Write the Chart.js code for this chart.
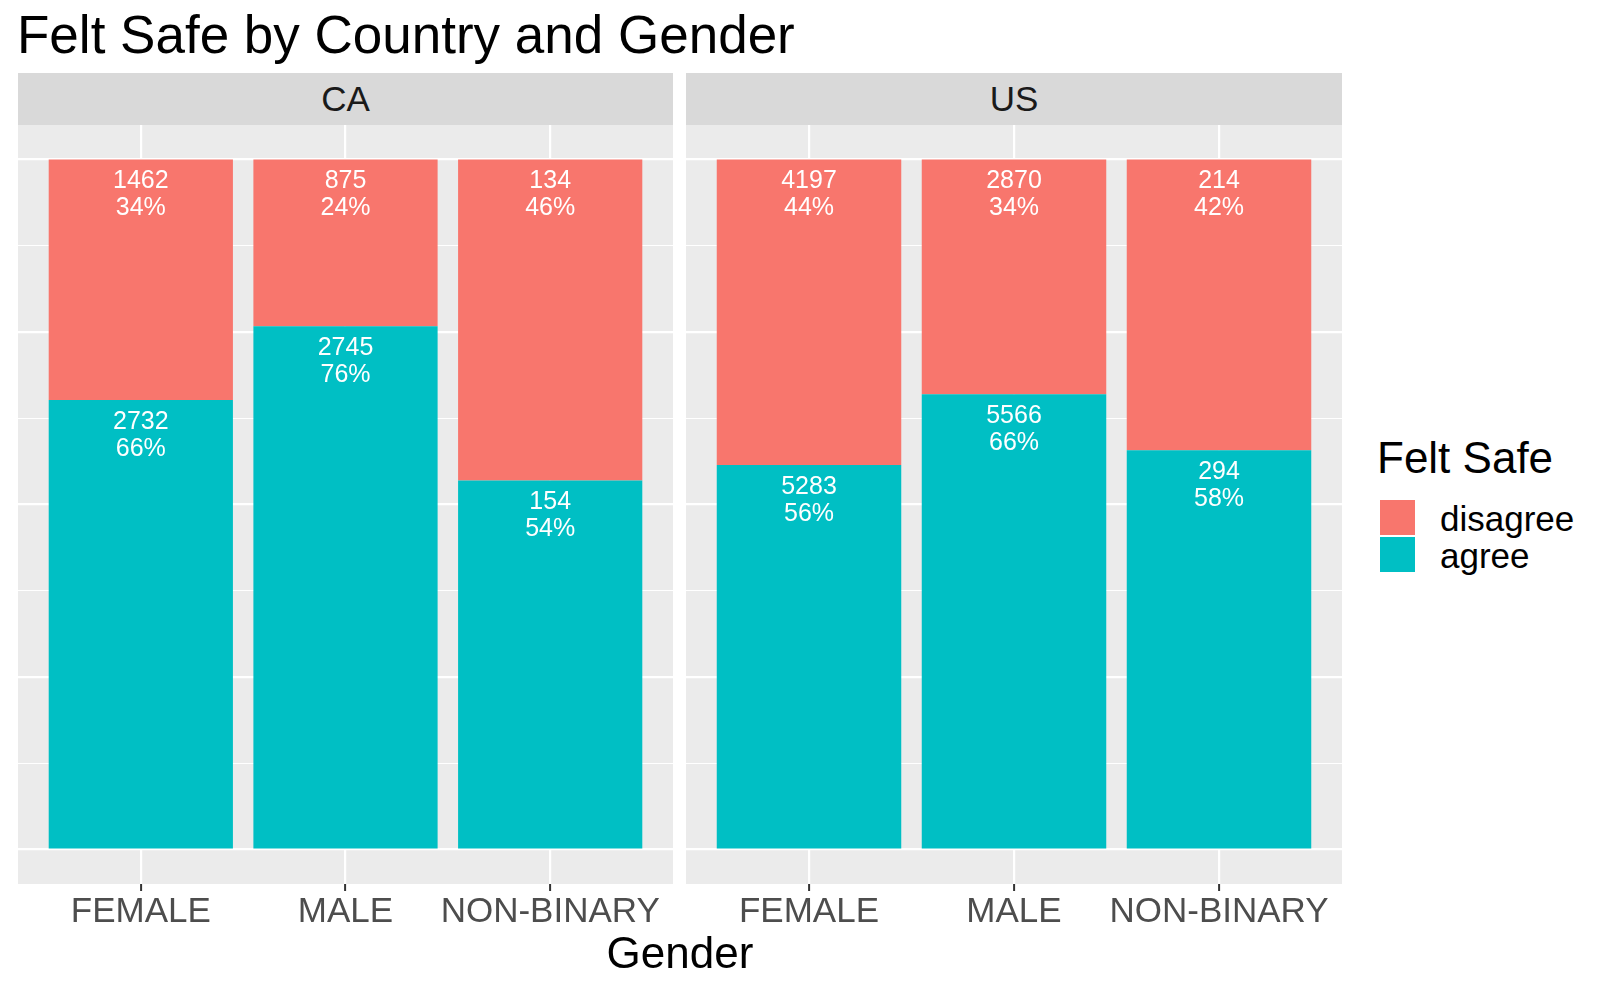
<!DOCTYPE html>
<html>
<head>
<meta charset="utf-8">
<script src="https://cdn.jsdelivr.net/npm/chart.js@4"></script>
<style>
  body { margin: 0; background: #fff; font-family: "Liberation Sans", Arial, sans-serif; }
  #fig { position: relative; width: 1600px; height: 988px; overflow: hidden; }
  .abs { position: absolute; }
  .strip { position: absolute; background: #D9D9D9; color: #1A1A1A; font-size: 35px; line-height: 52px; text-align: center; }
  .key { position: absolute; width: 35px; height: 35px; }
  .keylab { position: absolute; font-size: 35px; line-height: 35px; color: #000; }
</style>
</head>
<body>
<div id="fig">
  <div class="abs" style="left:17px;top:8px;font-size:53px;line-height:53px;color:#000;">Felt Safe by Country and Gender</div>

  <div class="strip" style="left:18px;top:73px;width:655px;height:52px;">CA</div>
  <div class="strip" style="left:686px;top:73px;width:656px;height:52px;">US</div>

  <canvas id="caChart" class="abs" style="left:18px;top:125px;" width="655" height="819"></canvas>
  <canvas id="usChart" class="abs" style="left:686px;top:125px;" width="656" height="819"></canvas>

  <div class="abs" style="left:430px;top:931px;width:500px;text-align:center;font-size:44px;line-height:44px;color:#000;">Gender</div>

  <div class="abs" style="left:1377px;top:436px;font-size:44px;line-height:44px;color:#000;">Felt Safe</div>
  <div class="key" style="left:1380px;top:500px;background:#F8766D;"></div>
  <div class="key" style="left:1380px;top:537px;background:#00BFC4;"></div>
  <div class="keylab" style="left:1440px;top:501px;">disagree</div>
  <div class="keylab" style="left:1440px;top:538px;">agree</div>
</div>

<script>
// categories and counts
var genders = ['FEMALE', 'MALE', 'NON-BINARY'];
var caAgree = [2732, 2745, 154];
var caDisagree = [1462, 875, 134];
var usAgree = [5283, 5566, 294];
var usDisagree = [4197, 2870, 214];
// percent labels as printed on the bars
var caAgreePct = ['66%', '76%', '54%'];
var caDisagreePct = ['34%', '24%', '46%'];
var usAgreePct = ['56%', '66%', '58%'];
var usDisagreePct = ['44%', '34%', '42%'];
var yGrid = [0, 0.125, 0.25, 0.375, 0.5, 0.625, 0.75, 0.875, 1];

var FONT = '"Liberation Sans", Arial, sans-serif';
Chart.defaults.font.family = FONT;

// grey panel behind grid
var panelBg = {
  id: 'panelBg',
  beforeDraw: function(chart) {
    var a = chart.chartArea, ctx = chart.ctx;
    ctx.save();
    ctx.fillStyle = '#EBEBEB';
    ctx.fillRect(a.left, a.top, a.right - a.left, a.bottom - a.top);
    ctx.restore();
  }
};

// count + percent text at the top of each segment
var barText = {
  id: 'barText',
  afterDatasetsDraw: function(chart) {
    var ctx = chart.ctx;
    ctx.save();
    ctx.fillStyle = '#fff';
    ctx.font = '25px ' + FONT;
    ctx.textAlign = 'center';
    ctx.textBaseline = 'middle';
    chart.data.datasets.forEach(function(ds, d) {
      var meta = chart.getDatasetMeta(d);
      meta.data.forEach(function(el, i) {
        ctx.fillText(String(ds.counts[i]), el.x, el.y + 22);
        ctx.fillText(ds.pcts[i], el.x, el.y + 49);
      });
    });
    ctx.restore();
  }
};

function share(part, other) {
  return part.map(function(v, i) {
    return { x: i + 1, y: v / (v + other[i]) };
  });
}

function makePanel(id, agree, disagree, agreePct, disagreePct) {
  var ctx = document.getElementById(id).getContext('2d');
  var config = {
    type: 'bar',
    data: {
      datasets: [{
        label: 'agree',
        data: share(agree, disagree),
        counts: agree,
        pcts: agreePct,
        backgroundColor: '#00BFC4'
      }, {
        label: 'disagree',
        data: share(disagree, agree),
        counts: disagree,
        pcts: disagreePct,
        backgroundColor: '#F8766D'
      }]
    },
    options: {
      responsive: false,
      animation: false,
      devicePixelRatio: 1,
      layout: { padding: 0 },
      categoryPercentage: 1,
      barPercentage: 0.9,
      plugins: { legend: { display: false }, tooltip: { enabled: false } },
      scales: {
        x: {
          type: 'linear',
          min: 0.4,
          max: 3.6,
          offset: false,
          stacked: true,
          afterBuildTicks: function(axis) {
            axis.ticks = genders.map(function(g, i) { return { value: i + 1 }; });
          },
          afterFit: function(axis) { axis.height = 60; },
          border: { display: false },
          grid: { offset: false, color: '#FFFFFF', lineWidth: 2.2, tickColor: '#333333', tickLength: 7, tickWidth: 2 },
          ticks: {
            autoSkip: false,
            maxRotation: 0,
            minRotation: 0,
            padding: 0,
            color: '#4D4D4D',
            font: { size: 35 },
            callback: function(v) { return genders[v - 1]; }
          }
        },
        y: {
          min: -0.05,
          max: 1.05,
          stacked: true,
          afterBuildTicks: function(axis) {
            axis.ticks = yGrid.map(function(v) { return { value: v }; });
          },
          afterFit: function(axis) { axis.width = 0; },
          border: { display: false },
          grid: {
            color: '#FFFFFF',
            drawTicks: false,
            lineWidth: function(c) { return (c.tick && c.tick.value % 0.25 === 0) ? 2.2 : 1.1; }
          },
          ticks: { display: false }
        }
      }
    },
    plugins: [panelBg, barText]
  };
  return new Chart(ctx, config);
}

var caChart = makePanel('caChart', caAgree, caDisagree, caAgreePct, caDisagreePct);
var usChart = makePanel('usChart', usAgree, usDisagree, usAgreePct, usDisagreePct);
</script>
</body>
</html>
